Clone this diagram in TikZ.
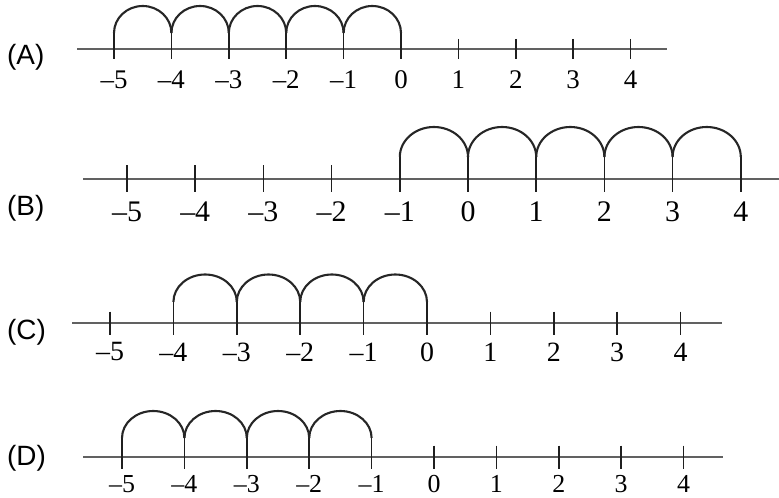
\documentclass[tikz,border=0pt]{standalone}
\usepackage{fontspec}
\setmainfont{Liberation Serif}
\newfontfamily\labfont{Liberation Sans}
\tikzset{
  axisline/.style={draw=black!62, line width=2.4bp},
  tickline/.style={draw=black!88, line width=1.6bp},
  arcline/.style={draw=black!85, line width=2.1bp},
  numlab/.style={inner sep=0pt, anchor=center},
  rowlab/.style={inner sep=0pt, anchor=west, font=\labfont\fontsize{28}{30}\selectfont},
}
% #1 row name, #2 line y, #3 line x start, #4 line x end, #5 x of -5, #6 spacing, #7 tick half, #8 label y, #9 font size
\newcommand\MyNumLine[9]{%
  \draw[axisline] (#3,#2) -- (#4,#2);
  \foreach \j in {0,...,9}{%
    \pgfmathsetmacro\xx{#5+#6*\j}%
    \pgfmathtruncatemacro\vv{\j-5}%
    \draw[tickline] (\xx,#2-#7) -- (\xx,#2+#7);
    \node[numlab, font=\rmfamily\fontsize{#9}{#9}\selectfont] (#1n\j) at (\xx,#8) {\ifnum\vv<0 –\number-\vv\else\vv\fi};
  }%
}
% #1 line y, #2 x of -5, #3 spacing, #4 first index, #5 last index, #6 cusp y, #7 arc height, #8 tick half
\newcommand\MyArcs[8]{%
  \foreach \j in {#4,...,#5}{%
    \pgfmathsetmacro\xx{#2+#3*\j}%
    \draw[tickline] (\xx,#6) -- (\xx,#1+#8);
  }%
  \pgfmathtruncatemacro\lastarc{#5-1}%
  \foreach \j in {#4,...,\lastarc}{%
    \pgfmathsetmacro\xx{#2+#3*\j}%
    \pgfmathsetmacro\rx{#3/2}%
    \draw[arcline] (\xx,#6) arc[start angle=180, end angle=0, x radius=\rx bp, y radius=#7 bp];
  }%
}
\begin{document}
\begin{tikzpicture}[x=1bp,y=-1bp]
\useasboundingbox (0,0) rectangle (779,498);
% (A)
\node[rowlab] (labA) at (7,57) {(A)};
\MyNumLine{A}{49}{77}{667}{114}{57.4}{10}{80}{27}
\MyArcs{49}{114}{57.4}{0}{5}{33}{27}{10}
% (B)
\node[rowlab] (labB) at (7,208) {(B)};
\MyNumLine{B}{179}{83}{779}{127}{68.2}{13.5}{212}{30}
\MyArcs{179}{127}{68.2}{4}{9}{157}{30}{13.5}
% (C)
\node[rowlab] (labC) at (7,332) {(C)};
\MyNumLine{C}{323}{72}{722}{110}{63.4}{11.5}{352}{28}
\MyArcs{323}{110}{63.4}{1}{5}{302}{27.5}{11.5}
% (D)
\node[rowlab] (labD) at (7,458) {(D)};
\MyNumLine{D}{457}{83}{723}{122}{62.4}{11.5}{484}{26}
\MyArcs{457}{122}{62.4}{0}{4}{438}{27}{11.5}
\end{tikzpicture}
\end{document}
